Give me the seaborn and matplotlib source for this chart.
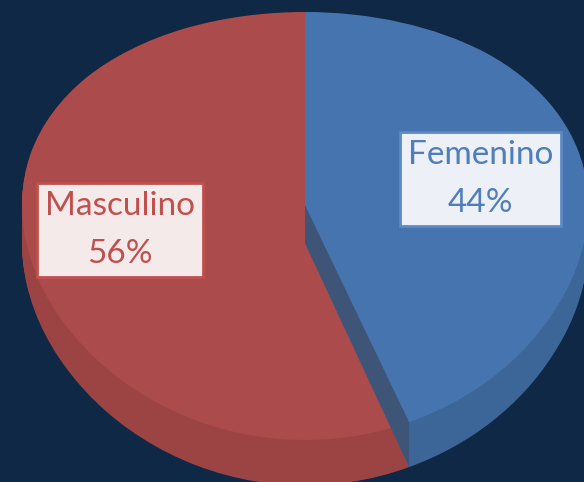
import matplotlib
matplotlib.use("Agg")
import numpy as np
import matplotlib.pyplot as plt
from matplotlib.patches import Polygon
import seaborn as sns

# ---- data ----
categories = ["Femenino", "Masculino"]
values = [44, 56]

# ---- style ----
sns.set_theme(style="white")
plt.rcParams["font.family"] = ["Lato", "DejaVu Sans"]

bg = "#0F2845"
top_colors = ["#4674AE", "#AB4B4B"]
side_colors = ["#3C6598", "#9C4444"]
wall_color = "#3F5577"
text_colors = ["#4F7EBB", "#C0504D"]
box_faces = ["#EDF1F7", "#F5EAEA"]
box_edges = ["#5B8AC6", "#C0504D"]

fig = plt.figure(figsize=(5.84, 4.82), dpi=100, facecolor=bg)
ax = fig.add_axes([0, 0, 1, 1])
ax.set_facecolor(bg)

depth = 0.175
depth_steps = 40
dy = depth / depth_steps
common = dict(startangle=90, counterclock=False, radius=1, frame=True,
              wedgeprops=dict(linewidth=0))

# red (Masculino) side, then top
for k in range(depth_steps, 0, -1):
    ax.pie(values, center=(0, -k * dy), colors=["none", side_colors[1]], **common)
ax.pie(values, center=(0, 0), colors=["none", top_colors[1]], **common)

# blue (Femenino) side
for k in range(depth_steps, 0, -1):
    ax.pie(values, center=(0, -k * dy), colors=[side_colors[0], "none"], **common)

# radial wall of the blue slice at its clockwise end
end_ang = np.deg2rad(90 - 360 * values[0] / sum(values))
ex, ey = np.cos(end_ang), np.sin(end_ang)
wall = Polygon([(0, 0), (ex, ey), (ex, ey - depth), (0, -depth)],
               closed=True, facecolor=wall_color, edgecolor="none")
ax.add_patch(wall)

# blue top
ax.pie(values, center=(0, 0), colors=[top_colors[0], "none"], **common)

# labels
label_pos = [(0.62, 0.125), (-0.655, -0.115)]
for i, (cat, v) in enumerate(zip(categories, values)):
    ax.text(label_pos[i][0], label_pos[i][1], f"{cat}\n{v}%",
            ha="center", va="center", fontsize=24, color=text_colors[i],
            linespacing=1.75,
            bbox=dict(boxstyle="square,pad=0.24", fc=box_faces[i],
                      ec=box_edges[i], lw=2))

# perspective-like vertical scale: back half shallower, front half deeper
A, B = 214.0, 21.0


def fwd(y):
    y = np.asarray(y, dtype=float)
    return A * y - B * y * y


def inv(s):
    s = np.asarray(s, dtype=float)
    d = np.clip(A * A - 4 * B * s, 0, None)
    return (A - np.sqrt(d)) / (2 * B)


ax.set_aspect("auto")
ax.set_yscale("function", functions=(fwd, inv))
ax.set_xlim(-305 / 283, 279 / 283)
ax.set_ylim(float(inv(205 - 482)), float(inv(205)))
ax.axis("off")

fig.savefig("out.png", dpi=100, facecolor=bg)
